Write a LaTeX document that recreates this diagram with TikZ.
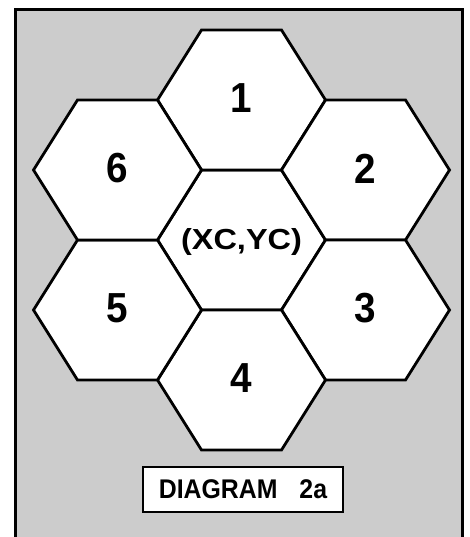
\documentclass[tikz,border=0pt]{standalone}
\usepackage{fontspec}
\setmainfont{Liberation Sans}
\newfontfamily\widefont[FakeStretch=1.12]{Liberation Sans}
\newfontfamily\narrowfont[FakeStretch=0.92]{Liberation Sans}
\usepackage{xcolor}
\usetikzlibrary{positioning}

\definecolor{panelgray}{gray}{0.80}

\begin{document}
\begin{tikzpicture}[x=1pt, y=-1pt,
    hexcell/.style={draw, line width=2.8pt, fill=white, line join=miter},
    cellnum/.style={font=\narrowfont\fontsize{42}{42}\selectfont\bfseries},
    centre/.style={font=\widefont\fontsize{29}{29}\selectfont\bfseries},
    tag/.style={draw, line width=2pt, fill=white, minimum width=200pt,
                minimum height=45pt, inner sep=0pt,
                font=\narrowfont\fontsize{27}{27}\selectfont\bfseries}
  ]
  \useasboundingbox (0,0) rectangle (469,537);

  % shaded panel, open at the bottom
  \fill[panelgray] (15,10) rectangle (462,545);
  \draw[line width=3pt] (15,545) -- (15,10) -- (462,10) -- (462,545);

  % honeycomb
  \foreach \name/\cx/\cy/\txt in {c/241.5/240/{},
      one/241.5/100/1, two/365.5/170/2, three/365.5/310/3,
      four/241.5/380/4, five/117.5/310/5, six/117.5/170/6} {
    \draw[hexcell] ({\cx-84},\cy) -- ({\cx-40},{\cy-70}) -- ({\cx+40},{\cy-70})
      -- ({\cx+84},\cy) -- ({\cx+40},{\cy+70}) -- ({\cx-40},{\cy+70}) -- cycle;
    \node[cellnum] (\name) at (\cx,{\cy-1.5}) {\txt};
  }
  \node[centre] (xy) at (241.5,242) {(XC,YC)};

  \node[tag] (diag) at (243,489.5) {DIAGRAM\hspace{22pt}2a};
\end{tikzpicture}
\end{document}
